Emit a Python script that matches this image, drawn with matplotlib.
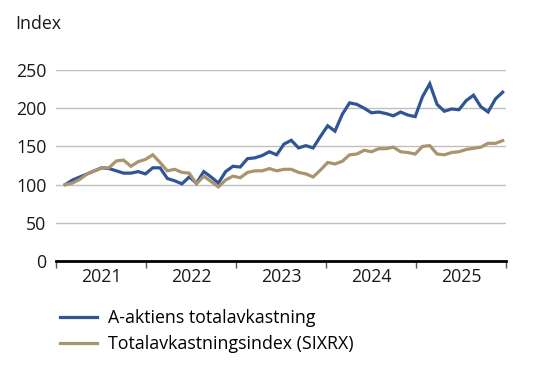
import numpy as np
import matplotlib
matplotlib.use("Agg")
import matplotlib.pyplot as plt

plt.rcParams['font.family'] = ['Open Sans', 'DejaVu Sans']

# manadsvarden, index = 100 vid start
a_aktien = [100, 106, 110, 114, 118, 122, 121, 118, 115, 115, 117, 114, 122, 122, 108,
            105, 101, 110, 102, 117, 110, 102, 117, 124, 123, 134, 135, 138, 143, 139,
            153, 158, 148, 151, 148, 163, 177, 170, 192, 207, 205, 200, 194, 195, 193,
            190, 195, 191, 189, 215, 232, 205, 196, 199, 198, 210, 217, 202, 195, 212, 221]
sixrx = [100, 102, 107, 114, 118, 122, 122, 131, 132, 124, 130, 133, 139, 129, 118,
         120, 116, 115, 101, 111, 104, 97, 106, 111, 109, 116, 118, 118, 121, 118,
         120, 120, 116, 114, 110, 119, 129, 127, 130.5, 139, 140, 145, 143, 147, 147,
         149, 143, 142, 140, 150, 151, 140, 139, 142, 143, 146, 147.5, 149, 154, 154, 157.5]
years = ['2021', '2022', '2023', '2024', '2025']
series_names = ['A-aktiens totalavkastning', 'Totalavkastningsindex (SIXRX)']

blue = '#2F5597'
tan = '#A8946F'
fs = 12.8

fig = plt.figure(figsize=(5.5, 3.69), dpi=100)
ax = fig.add_axes([56/550, 1-261/369, 450/550, 191/369])

t = np.linspace(0.103, 4.963, len(a_aktien))
l1, = ax.plot(t, a_aktien, color=blue, lw=2.3, solid_joinstyle='miter', clip_on=False)
l2, = ax.plot(t, sixrx, color=tan, lw=2.3, solid_joinstyle='miter', clip_on=False)

ax.set_xlim(0, 5)
ax.set_ylim(0, 250)
ax.set_yticks([0, 50, 100, 150, 200, 250])
ax.grid(axis='y', color='#BFBFBF', lw=1.0)
ax.set_axisbelow(True)

for s in ['top', 'right', 'left']:
    ax.spines[s].set_visible(False)
ax.spines['bottom'].set_linewidth(2.0)
ax.spines['bottom'].set_color('black')

ax.set_xticks(np.arange(0, 6))
ax.set_xticklabels([])
ax.set_xticks(np.arange(0.5, 5), minor=True)
ax.set_xticklabels(years, minor=True)
ax.tick_params(axis='x', which='major', length=5, width=1, color='#555555', direction='out')
ax.tick_params(axis='x', which='minor', length=0, pad=5, labelsize=fs, labelcolor='#1a1a1a')
ax.tick_params(axis='y', length=0, pad=7, labelsize=fs, labelcolor='#1a1a1a')

fig.text(15/550, 1-24/369, 'Index', fontsize=fs, va='center', ha='left', color='#1a1a1a')

fig.legend([l1, l2], series_names, loc='upper left', bbox_to_anchor=(60/550, 1-309/369),
           frameon=False, fontsize=fs, handlelength=2.1, handletextpad=0.6,
           labelspacing=0.45, borderaxespad=0, borderpad=0)

fig.savefig('out.png', dpi=100)
